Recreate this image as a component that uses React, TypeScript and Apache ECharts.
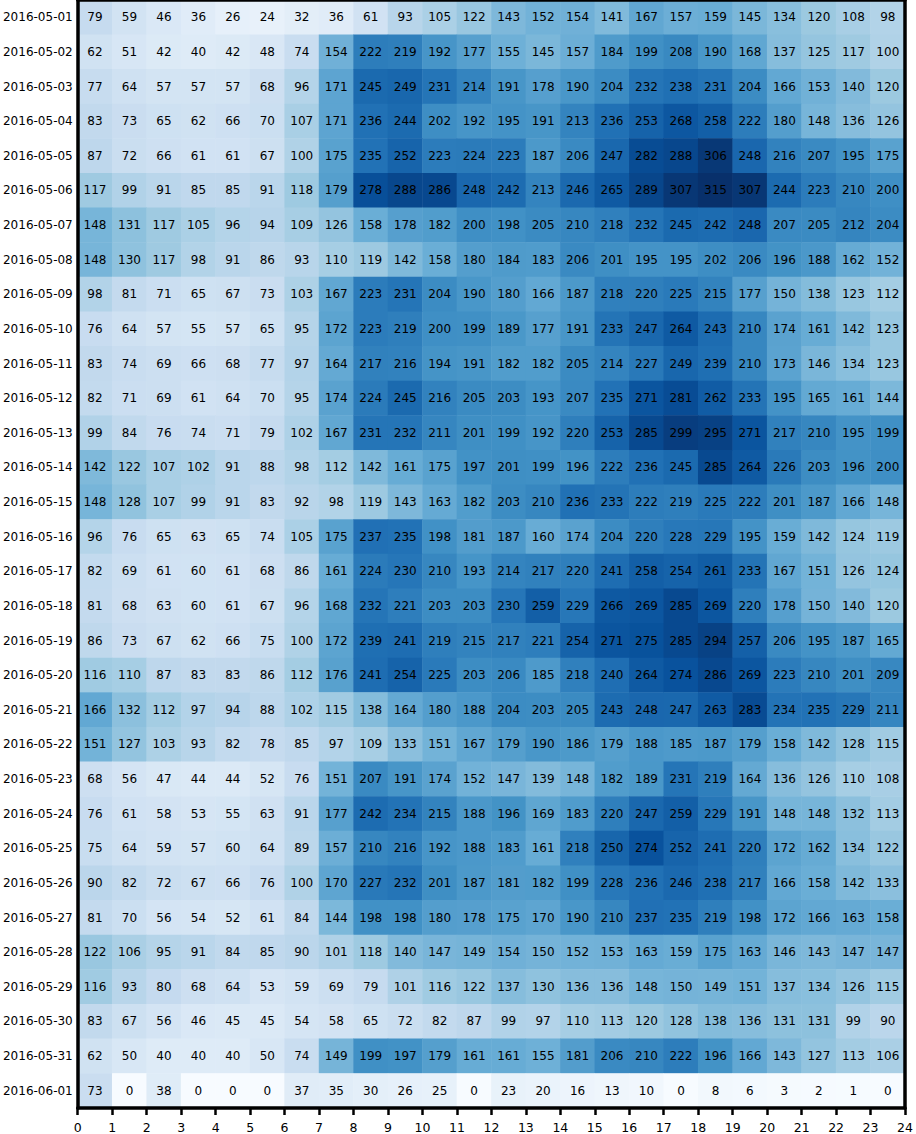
import React, { useEffect, useRef } from "react";
import * as echarts from "echarts";

const dates = [
  "2016-05-01", "2016-05-02", "2016-05-03", "2016-05-04", "2016-05-05", "2016-05-06",
  "2016-05-07", "2016-05-08", "2016-05-09", "2016-05-10", "2016-05-11", "2016-05-12",
  "2016-05-13", "2016-05-14", "2016-05-15", "2016-05-16", "2016-05-17", "2016-05-18",
  "2016-05-19", "2016-05-20", "2016-05-21", "2016-05-22", "2016-05-23", "2016-05-24",
  "2016-05-25", "2016-05-26", "2016-05-27", "2016-05-28", "2016-05-29", "2016-05-30",
  "2016-05-31", "2016-06-01",
];

const hours = [
  "0", "1", "2", "3", "4", "5", "6", "7", "8", "9", "10", "11",
  "12", "13", "14", "15", "16", "17", "18", "19", "20", "21", "22", "23",
];

const counts = [
  [79, 59, 46, 36, 26, 24, 32, 36, 61, 93, 105, 122, 143, 152, 154, 141, 167, 157, 159, 145, 134, 120, 108, 98],
  [62, 51, 42, 40, 42, 48, 74, 154, 222, 219, 192, 177, 155, 145, 157, 184, 199, 208, 190, 168, 137, 125, 117, 100],
  [77, 64, 57, 57, 57, 68, 96, 171, 245, 249, 231, 214, 191, 178, 190, 204, 232, 238, 231, 204, 166, 153, 140, 120],
  [83, 73, 65, 62, 66, 70, 107, 171, 236, 244, 202, 192, 195, 191, 213, 236, 253, 268, 258, 222, 180, 148, 136, 126],
  [87, 72, 66, 61, 61, 67, 100, 175, 235, 252, 223, 224, 223, 187, 206, 247, 282, 288, 306, 248, 216, 207, 195, 175],
  [117, 99, 91, 85, 85, 91, 118, 179, 278, 288, 286, 248, 242, 213, 246, 265, 289, 307, 315, 307, 244, 223, 210, 200],
  [148, 131, 117, 105, 96, 94, 109, 126, 158, 178, 182, 200, 198, 205, 210, 218, 232, 245, 242, 248, 207, 205, 212, 204],
  [148, 130, 117, 98, 91, 86, 93, 110, 119, 142, 158, 180, 184, 183, 206, 201, 195, 195, 202, 206, 196, 188, 162, 152],
  [98, 81, 71, 65, 67, 73, 103, 167, 223, 231, 204, 190, 180, 166, 187, 218, 220, 225, 215, 177, 150, 138, 123, 112],
  [76, 64, 57, 55, 57, 65, 95, 172, 223, 219, 200, 199, 189, 177, 191, 233, 247, 264, 243, 210, 174, 161, 142, 123],
  [83, 74, 69, 66, 68, 77, 97, 164, 217, 216, 194, 191, 182, 182, 205, 214, 227, 249, 239, 210, 173, 146, 134, 123],
  [82, 71, 69, 61, 64, 70, 95, 174, 224, 245, 216, 205, 203, 193, 207, 235, 271, 281, 262, 233, 195, 165, 161, 144],
  [99, 84, 76, 74, 71, 79, 102, 167, 231, 232, 211, 201, 199, 192, 220, 253, 285, 299, 295, 271, 217, 210, 195, 199],
  [142, 122, 107, 102, 91, 88, 98, 112, 142, 161, 175, 197, 201, 199, 196, 222, 236, 245, 285, 264, 226, 203, 196, 200],
  [148, 128, 107, 99, 91, 83, 92, 98, 119, 143, 163, 182, 203, 210, 236, 233, 222, 219, 225, 222, 201, 187, 166, 148],
  [96, 76, 65, 63, 65, 74, 105, 175, 237, 235, 198, 181, 187, 160, 174, 204, 220, 228, 229, 195, 159, 142, 124, 119],
  [82, 69, 61, 60, 61, 68, 86, 161, 224, 230, 210, 193, 214, 217, 220, 241, 258, 254, 261, 233, 167, 151, 126, 124],
  [81, 68, 63, 60, 61, 67, 96, 168, 232, 221, 203, 203, 230, 259, 229, 266, 269, 285, 269, 220, 178, 150, 140, 120],
  [86, 73, 67, 62, 66, 75, 100, 172, 239, 241, 219, 215, 217, 221, 254, 271, 275, 285, 294, 257, 206, 195, 187, 165],
  [116, 110, 87, 83, 83, 86, 112, 176, 241, 254, 225, 203, 206, 185, 218, 240, 264, 274, 286, 269, 223, 210, 201, 209],
  [166, 132, 112, 97, 94, 88, 102, 115, 138, 164, 180, 188, 204, 203, 205, 243, 248, 247, 263, 283, 234, 235, 229, 211],
  [151, 127, 103, 93, 82, 78, 85, 97, 109, 133, 151, 167, 179, 190, 186, 179, 188, 185, 187, 179, 158, 142, 128, 115],
  [68, 56, 47, 44, 44, 52, 76, 151, 207, 191, 174, 152, 147, 139, 148, 182, 189, 231, 219, 164, 136, 126, 110, 108],
  [76, 61, 58, 53, 55, 63, 91, 177, 242, 234, 215, 188, 196, 169, 183, 220, 247, 259, 229, 191, 148, 148, 132, 113],
  [75, 64, 59, 57, 60, 64, 89, 157, 210, 216, 192, 188, 183, 161, 218, 250, 274, 252, 241, 220, 172, 162, 134, 122],
  [90, 82, 72, 67, 66, 76, 100, 170, 227, 232, 201, 187, 181, 182, 199, 228, 236, 246, 238, 217, 166, 158, 142, 133],
  [81, 70, 56, 54, 52, 61, 84, 144, 198, 198, 180, 178, 175, 170, 190, 210, 237, 235, 219, 198, 172, 166, 163, 158],
  [122, 106, 95, 91, 84, 85, 90, 101, 118, 140, 147, 149, 154, 150, 152, 153, 163, 159, 175, 163, 146, 143, 147, 147],
  [116, 93, 80, 68, 64, 53, 59, 69, 79, 101, 116, 122, 137, 130, 136, 136, 148, 150, 149, 151, 137, 134, 126, 115],
  [83, 67, 56, 46, 45, 45, 54, 58, 65, 72, 82, 87, 99, 97, 110, 113, 120, 128, 138, 136, 131, 131, 99, 90],
  [62, 50, 40, 40, 40, 50, 74, 149, 199, 197, 179, 161, 161, 155, 181, 206, 210, 222, 196, 166, 143, 127, 113, 106],
  [73, 0, 38, 0, 0, 0, 37, 35, 30, 26, 25, 0, 23, 20, 16, 13, 10, 0, 8, 6, 3, 2, 1, 0],
];

const blues = [
  "#f7fbff", "#deebf7", "#c6dbef", "#9ecae1", "#6baed6",
  "#4292c6", "#2171b5", "#08519c", "#08306b",
];

const FONT = "DejaVu Sans";

export default function App() {
  const ref = useRef<HTMLDivElement>(null);

  useEffect(() => {
    document.body.style.margin = "0";
    const chart = echarts.init(ref.current!, null, { renderer: "svg" });
    const data: number[][] = [];
    counts.forEach((row, yi) => row.forEach((v, xi) => data.push([xi, yi, v])));

    const border = { show: true, onZero: false, lineStyle: { color: "#000", width: 3.5 } };

    chart.setOption({
      animation: false,
      textStyle: { fontFamily: FONT },
      grid: { left: 77, right: 7.5, top: 0, bottom: 25.7 },
      visualMap: {
        show: false,
        type: "continuous",
        min: 0,
        max: 315,
        dimension: 2,
        seriesIndex: 0,
        inRange: { color: blues },
      },
      xAxis: [
        {
          type: "category",
          data: hours,
          position: "top",
          z: 10,
          axisLine: border,
          axisTick: { show: false },
          axisLabel: { show: false },
          splitLine: { show: false },
        },
        {
          type: "value",
          min: 0,
          max: 24,
          interval: 1,
          position: "bottom",
          z: 10,
          axisLine: border,
          axisTick: { show: true, length: 7, lineStyle: { color: "#000", width: 2.5 } },
          axisLabel: { color: "#000", fontSize: 12.5, fontFamily: FONT, margin: 13 },
          splitLine: { show: false },
        },
      ],
      yAxis: [
        {
          type: "category",
          data: dates,
          inverse: true,
          position: "left",
          z: 10,
          axisLine: border,
          axisTick: { show: false },
          axisLabel: { color: "#000", fontSize: 12, fontFamily: FONT, margin: 5 },
          splitLine: { show: false },
        },
        {
          type: "value",
          position: "right",
          min: 0,
          max: 1,
          z: 10,
          axisLine: border,
          axisTick: { show: false },
          axisLabel: { show: false },
          splitLine: { show: false },
        },
      ],
      series: [
        {
          type: "heatmap",
          xAxisIndex: 0,
          yAxisIndex: 0,
          data,
          label: { show: true, color: "#000", fontSize: 12, fontFamily: FONT },
          emphasis: { disabled: true },
        },
      ],
    });
    return () => chart.dispose();
  }, []);

  return <div ref={ref} style={{ width: 916, height: 1134 }} />;
}
